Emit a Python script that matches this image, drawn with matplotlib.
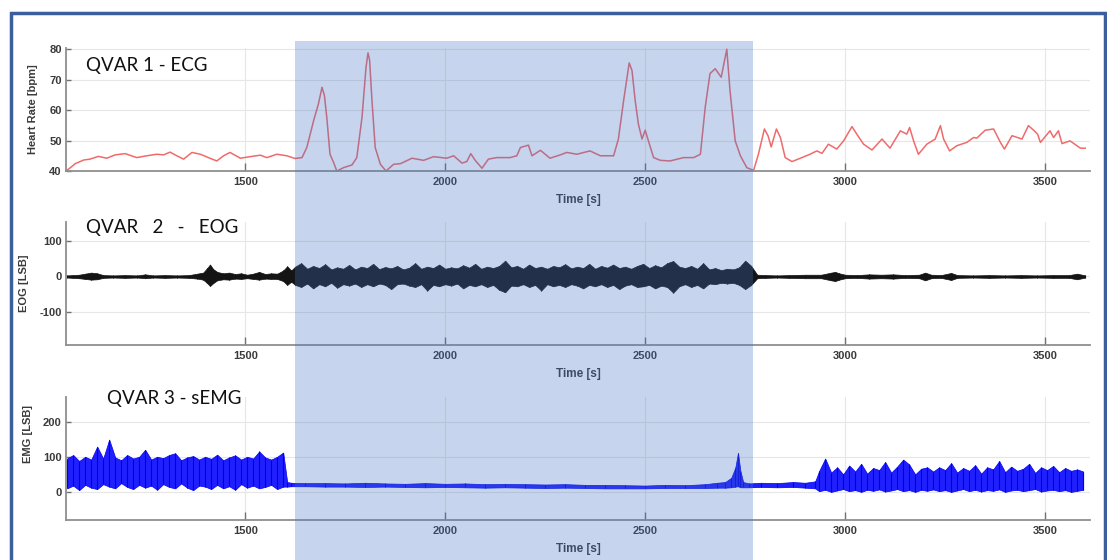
import matplotlib.pyplot as plt
from matplotlib.patches import Rectangle
from matplotlib.transforms import blended_transform_factory

plt.rcParams["axes.unicode_minus"] = False

# ---- heart rate (ECG) ----
ecg_t = [1052, 1062, 1075, 1096, 1112, 1133, 1154, 1175, 1200, 1229,
         1254, 1279, 1296, 1312, 1329, 1346, 1367, 1388, 1408, 1429,
         1446, 1462, 1488, 1512, 1538, 1554, 1579, 1604, 1625, 1642,
         1654, 1671, 1683, 1692, 1698, 1704, 1712, 1721, 1729, 1746,
         1767, 1779, 1792, 1802, 1807, 1811, 1817, 1825, 1838, 1852,
         1871, 1888, 1917, 1946, 1971, 2004, 2021, 2042, 2054, 2064,
         2075, 2092, 2108, 2129, 2162, 2179, 2188, 2208, 2217, 2238,
         2262, 2288, 2304, 2329, 2362, 2388, 2421, 2433, 2446, 2460,
         2467, 2475, 2483, 2492, 2500, 2508, 2521, 2538, 2562, 2596,
         2621, 2638, 2650, 2662, 2675, 2690, 2704, 2712, 2725, 2738,
         2754, 2771, 2783, 2798, 2807, 2815, 2828, 2838, 2850, 2867,
         2888, 2912, 2929, 2942, 2958, 2979, 2996, 3017, 3029, 3046,
         3067, 3092, 3112, 3138, 3154, 3161, 3171, 3183, 3204, 3225,
         3238, 3246, 3261, 3279, 3304, 3321, 3329, 3350, 3371, 3388,
         3398, 3417, 3442, 3458, 3471, 3481, 3488, 3512, 3521, 3533,
         3542, 3562, 3588, 3600]
ecg_bpm = [40.0, 41.0, 42.4, 43.6, 43.9, 44.8, 44.2, 45.3, 45.7, 44.4,
           45.0, 45.5, 45.3, 46.2, 45.0, 43.9, 46.1, 45.5, 44.4, 43.3,
           45.0, 46.1, 44.2, 44.7, 45.2, 44.4, 45.5, 45.0, 44.1, 44.4,
           47.7, 56.5, 62.0, 67.5, 64.8, 57.6, 45.5, 42.8, 40.0, 41.1,
           42.0, 44.4, 57.6, 74.0, 78.8, 76.4, 63.0, 47.7, 42.2, 40.0,
           42.2, 42.4, 44.2, 43.5, 44.7, 44.2, 45.0, 42.6, 43.1, 45.7,
           43.5, 40.9, 43.9, 44.4, 44.4, 45.0, 47.7, 48.5, 45.0, 46.8,
           44.2, 45.3, 46.1, 45.5, 46.6, 45.0, 45.0, 50.5, 63.1, 75.5,
           73.0, 63.1, 55.4, 50.5, 53.4, 49.9, 44.4, 43.5, 43.3, 44.4,
           44.4, 45.5, 60.9, 72.0, 73.6, 70.8, 80.0, 66.4, 49.9, 45.0,
           41.1, 40.2, 45.5, 53.8, 51.6, 47.9, 53.8, 51.0, 44.4, 43.1,
           44.2, 45.5, 46.6, 45.8, 48.8, 47.2, 49.9, 54.6, 52.1, 48.8,
           46.9, 50.5, 47.5, 53.2, 52.1, 54.3, 49.9, 45.5, 48.8, 50.5,
           54.9, 50.5, 46.6, 48.3, 49.4, 51.0, 50.8, 53.4, 53.8, 49.4,
           47.2, 51.6, 50.5, 54.9, 53.4, 52.1, 49.4, 53.2, 51.0, 53.2,
           49.0, 49.9, 47.5, 47.5]

# ---- EOG amplitude envelope (upper / lower) ----
eog_t_pre = [1055, 1070, 1085, 1100, 1115, 1130, 1145, 1170, 1200, 1230,
             1250, 1270, 1300, 1330, 1360, 1380, 1395, 1405, 1412, 1420,
             1430, 1445, 1460, 1475, 1490, 1505, 1520, 1535, 1550, 1565,
             1580, 1595, 1605, 1615]
eog_hi_pre = [3, 4, 5, 8, 11, 9, 4, 3, 4, 3, 6, 3, 4, 3, 4, 8, 11, 24, 34, 21,
              13, 9, 11, 7, 9, 5, 8, 13, 7, 9, 8, 17, 29, 17]
eog_lo_pre = [-3, -4, -5, -7, -9, -8, -4, -3, -4, -3, -5, -3, -4, -3, -4, -6,
              -9, -19, -27, -19, -11, -8, -9, -6, -7, -5, -7, -9, -6, -7,
              -7, -13, -24, -15]
eog_t_mid = [1625, 1640, 1655, 1670, 1685, 1700, 1715, 1730, 1745, 1760,
             1775, 1790, 1805, 1820, 1835, 1850, 1865, 1880, 1895, 1910,
             1925, 1940, 1955, 1970, 1985, 2000, 2015, 2030, 2045, 2060,
             2075, 2090, 2105, 2120, 2135, 2150, 2165, 2180, 2195, 2210,
             2225, 2240, 2255, 2270, 2285, 2300, 2315, 2330, 2345, 2360,
             2375, 2390, 2405, 2420, 2435, 2450, 2465, 2480, 2495, 2510,
             2525, 2540, 2555, 2570, 2585, 2600, 2615, 2630, 2645, 2660,
             2675, 2690, 2705, 2720, 2735, 2750, 2765]
eog_hi_mid = [28, 38, 22, 30, 24, 35, 20, 26, 22, 33, 20, 28, 24, 36, 21, 27,
              23, 30, 20, 25, 38, 22, 28, 24, 34, 22, 26, 23, 32, 25, 36, 22,
              28, 24, 30, 45, 26, 30, 22, 34, 24, 28, 22, 30, 26, 35, 23, 28,
              24, 36, 22, 30, 25, 34, 24, 28, 22, 30, 36, 24, 32, 26, 38, 44,
              28, 24, 30, 22, 38, 20, 24, 18, 22, 20, 26, 45, 30]
eog_lo_mid = [-24, -30, -20, -34, -22, -28, -18, -32, -22, -26, -20, -30, -22,
              -28, -20, -24, -36, -22, -20, -26, -30, -22, -40, -24, -28, -22,
              -26, -20, -34, -24, -28, -22, -30, -24, -38, -45, -26, -28, -22,
              -30, -24, -40, -22, -28, -24, -30, -22, -26, -34, -24, -28, -22,
              -30, -24, -36, -26, -22, -30, -28, -24, -34, -26, -30, -46, -28,
              -22, -30, -24, -34, -20, -22, -18, -20, -18, -24, -36, -24]
eog_t_post = [2780, 2800, 2830, 2860, 2900, 2940, 2965, 2975, 2985, 3000,
              3030, 3060, 3090, 3120, 3150, 3185, 3200, 3215, 3240, 3265,
              3280, 3320, 3360, 3400, 3440, 3480, 3520, 3560, 3580, 3600]
eog_hi_post = [5, 4, 3, 4, 5, 5, 11, 13, 9, 5, 4, 6, 5, 6, 4, 5, 11, 5, 4, 10,
               4, 3, 4, 3, 4, 3, 4, 4, 8, 3]
eog_lo_post = [-5, -4, -3, -4, -5, -5, -11, -13, -9, -5, -4, -6, -5, -6, -4,
               -5, -11, -5, -4, -10, -4, -3, -4, -3, -4, -3, -4, -4, -8, -3]

# ---- sEMG amplitude envelope (upper / lower) ----
emg_t_pre = [1055, 1070, 1085, 1100, 1115, 1130, 1145, 1160, 1175, 1190,
             1205, 1220, 1235, 1250, 1265, 1280, 1295, 1310, 1325, 1340,
             1355, 1370, 1385, 1400, 1415, 1430, 1445, 1460, 1475, 1490,
             1505, 1520, 1535, 1550, 1565, 1580, 1595, 1605]
emg_hi_pre = [95, 105, 88, 100, 92, 129, 95, 149, 98, 90, 105, 95, 100, 120,
              92, 100, 96, 105, 110, 90, 98, 102, 92, 100, 94, 106, 90, 98,
              104, 92, 100, 95, 115, 98, 92, 100, 112, 28]
emg_lo_pre = [10, 18, 5, 20, 12, 8, 22, 15, 10, 25, 14, 8, 20, 12, 18, 6, 22,
              14, 10, 24, 12, 5, 18, 15, 8, 20, 10, 16, 6, 22, 12, 18, 10, 14,
              20, 8, 15, 15]
emg_t_mid = [1615, 1650, 1700, 1750, 1800, 1850, 1900, 1950, 2000, 2050,
             2100, 2150, 2200, 2250, 2300, 2350, 2400, 2450, 2500, 2550,
             2600, 2650, 2680, 2700, 2715, 2725, 2732, 2738, 2745, 2760,
             2790, 2830, 2870, 2900, 2925]
emg_hi_mid = [26, 25, 25, 24, 26, 24, 23, 25, 23, 24, 22, 23, 22, 21, 22, 20,
              20, 19, 18, 20, 19, 22, 26, 28, 40, 68, 111, 60, 28, 24, 26, 25,
              28, 26, 30]
emg_lo_mid = [16, 16, 15, 15, 14, 15, 14, 13, 14, 13, 12, 13, 12, 11, 12, 11,
              10, 10, 10, 11, 11, 11, 12, 12, 13, 15, 16, 13, 13, 13, 14, 13,
              14, 12, 10]
emg_t_post = [2935, 2950, 2965, 2980, 2995, 3010, 3025, 3040, 3055, 3070,
              3085, 3100, 3115, 3130, 3145, 3160, 3175, 3190, 3205, 3220,
              3235, 3250, 3265, 3280, 3295, 3310, 3325, 3340, 3355, 3370,
              3385, 3400, 3415, 3430, 3445, 3460, 3475, 3490, 3505, 3520,
              3535, 3550, 3565, 3580, 3595]
emg_hi_post = [60, 95, 55, 70, 50, 75, 58, 80, 52, 68, 62, 85, 55, 72, 92, 78,
               50, 66, 70, 58, 70, 62, 82, 55, 68, 60, 76, 52, 70, 64, 88, 56,
               72, 60, 66, 80, 54, 70, 62, 74, 56, 68, 60, 64, 58]
emg_lo_post = [2, 6, 0, 4, 8, 2, 5, 0, 6, 3, 7, 1, 4, 8, 2, 5, 0, 6, 3, 7, 2,
               5, 0, 4, 8, 2, 6, 1, 5, 3, 7, 0, 4, 6, 2, 5, 8, 1, 4, 6, 2, 5,
               0, 3, 6]

eog_t = eog_t_pre + eog_t_mid + eog_t_post
eog_hi = eog_hi_pre + eog_hi_mid + eog_hi_post
eog_lo = eog_lo_pre + eog_lo_mid + eog_lo_post
emg_t = emg_t_pre + emg_t_mid + emg_t_post
emg_hi = emg_hi_pre + emg_hi_mid + emg_hi_post
emg_lo = emg_lo_pre + emg_lo_mid + emg_lo_post

highlight = (1625, 2770)
xticks = [1500, 2000, 2500, 3000, 3500]
xlim = (1052, 3612)

W, H = 1107, 560
fig = plt.figure(figsize=(W / 100, H / 100), dpi=100)


def px_axes(left, top, right, bottom):
    return fig.add_axes([left / W, 1 - bottom / H, (right - left) / W, (bottom - top) / H])


def style(ax, ylim, yticks, ylabel, label_pos):
    ax.set_xlim(*xlim)
    ax.set_ylim(*ylim)
    ax.set_xticks(xticks)
    ax.set_yticks(yticks)
    for s in ["top", "right"]:
        ax.spines[s].set_visible(False)
    for s in ["left", "bottom"]:
        ax.spines[s].set_color("#8f8f8f")
        ax.spines[s].set_linewidth(1.3)
    ax.grid(True, color="#e6e6e6", lw=0.8)
    ax.set_axisbelow(True)
    ax.tick_params(axis="x", direction="in", length=5.5, width=1, color="#707070", pad=4)
    ax.tick_params(axis="y", direction="in", length=3.5, width=1, color="#707070", pad=3)
    for lab in ax.get_xticklabels() + ax.get_yticklabels():
        lab.set_fontfamily("Liberation Sans")
        lab.set_fontweight("bold")
        lab.set_fontsize(8)
        lab.set_color("#3a3a3a")
    ax.set_xlabel("Time [s]", fontfamily="Liberation Sans", fontweight="bold",
                  fontsize=8.5, color="#3a3a3a")
    ax.xaxis.set_label_coords(0.5, -0.19)
    ax.set_ylabel(ylabel, fontfamily="Liberation Sans", fontweight="bold",
                  fontsize=8, color="#3a3a3a")
    ax.yaxis.set_label_coords(*label_pos)


ax1 = px_axes(66, 48, 1090, 171)
ax1.plot(ecg_t, ecg_bpm, color="#ef6b6b", lw=1.1, clip_on=False)
style(ax1, (40, 80.4), [40, 50, 60, 70, 80], "Heart Rate [bpm]", (-0.027, 0.5))

ax2 = px_axes(66, 222, 1090, 345)
ax2.fill_between(eog_t, eog_lo, eog_hi, color="#141414", lw=0.5, edgecolor="#141414")
ax2.vlines(eog_t, eog_lo, eog_hi, color="#141414", lw=0.8)
style(ax2, (-195, 155), [-100, 0, 100], "EOG [LSB]", (-0.036, 0.5))

ax3 = px_axes(66, 397, 1090, 520)
ax3.fill_between(emg_t, emg_lo, emg_hi, color="#2020ff", lw=0.5, edgecolor="#0000f0")
ax3.vlines(emg_t, emg_lo, emg_hi, color="#0000e0", lw=0.8)
style(ax3, (-80, 270), [0, 100, 200], "EMG [LSB]", (-0.032, 0.7))

# shaded interval spanning all three panels
trans = blended_transform_factory(ax1.transData, fig.transFigure)
fig.add_artist(Rectangle((highlight[0], 0), highlight[1] - highlight[0], (H - 41) / H,
                         transform=trans, facecolor="#4472c4", alpha=0.3,
                         edgecolor="none", zorder=10, clip_on=False))

# panel titles
title_kw = dict(fontfamily="Lato", fontsize=13.5, color="#111111", va="baseline")
fig.text(86 / W, 1 - 71 / H, "QVAR 1 - ECG", **title_kw)
fig.text(86 / W, 1 - 233 / H, "QVAR   2   -   EOG", **title_kw)
fig.text(107 / W, 1 - 404 / H, "QVAR 3 - sEMG", **title_kw)

# blue frame
fig.add_artist(Rectangle((11 / W, -0.1), (1105 - 11) / W, 1.1 - 13 / H,
                         transform=fig.transFigure, fill=False,
                         edgecolor="#3b5f9c", lw=2.5, zorder=11))

fig.savefig("out.png", dpi=100)
